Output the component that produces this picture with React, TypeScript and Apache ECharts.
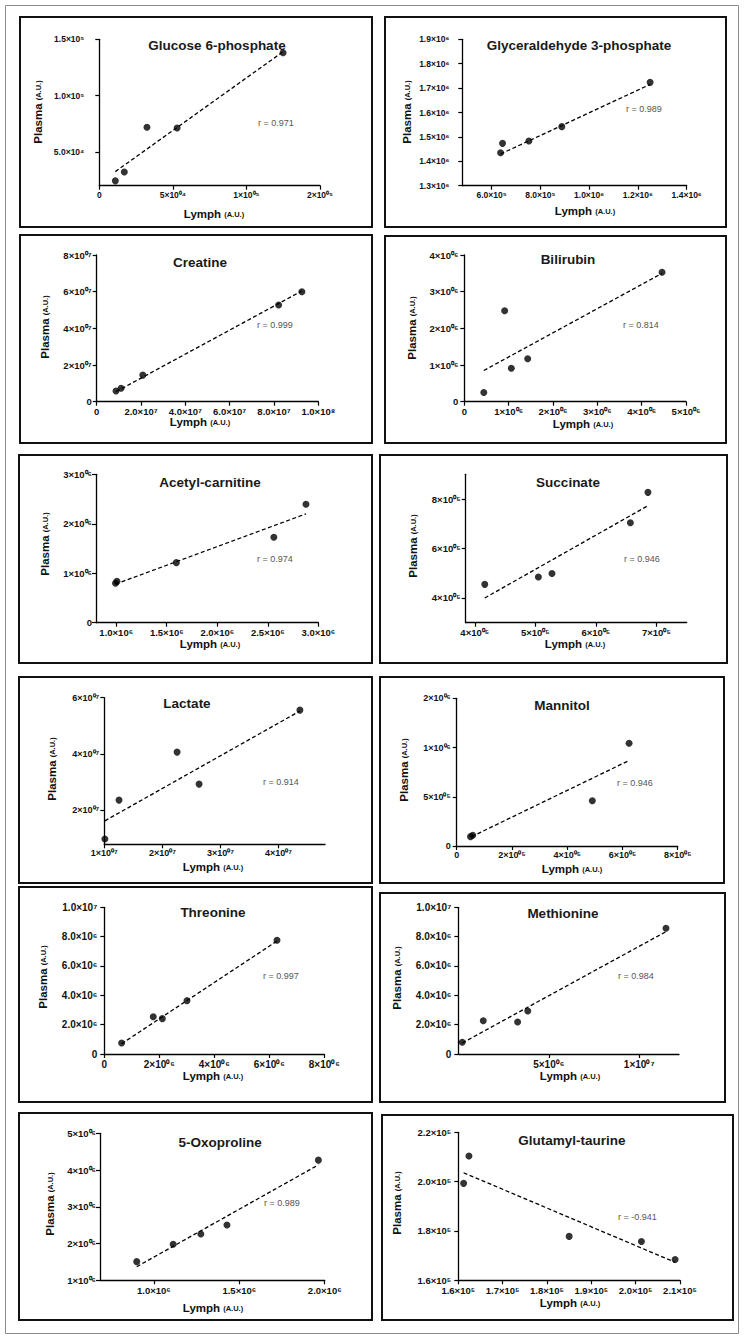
import React, { useEffect, useRef } from "react";
import * as echarts from "echarts";

// ---------- Data ----------
// Glucose 6-phosphate
const g6pLymph = [10900, 17000, 32400, 52900, 124900];
const g6pPlasma = [24300, 32200, 71900, 71300, 138000];
const g6pFitLymph = [10900, 124900];
const g6pFitPlasma = [32500, 139000];
const g6pXTicks = [0, 50000, 100000, 150000];
const g6pXLabels = ["0", "5×10⁰⁴", "1×10⁰⁵", "2×10⁰⁵"];
const g6pYTicks = [50000, 100000, 150000];
const g6pYLabels = ["5.0×10⁴", "1.0×10⁵", "1.5×10⁵"];

// Glyceraldehyde 3-phosphate
const gapLymph = [637000, 645000, 753000, 888000, 1250000];
const gapPlasma = [1435000, 1473500, 1483000, 1542000, 1723500];
const gapFitLymph = [637000, 1250000];
const gapFitPlasma = [1430000, 1715000];
const gapXTicks = [600000, 800000, 1000000, 1200000, 1400000];
const gapXLabels = ["6.0×10⁵", "8.0×10⁵", "1.0×10⁶", "1.2×10⁶", "1.4×10⁶"];
const gapYTicks = [1300000, 1400000, 1500000, 1600000, 1700000, 1800000, 1900000];
const gapYLabels = ["1.3×10⁶", "1.4×10⁶", "1.5×10⁶", "1.6×10⁶", "1.7×10⁶", "1.8×10⁶", "1.9×10⁶"];

// Creatine
const creLymph = [8.7e6, 1.1e7, 2.08e7, 8.21e7, 9.26e7];
const crePlasma = [5.8e6, 7.3e6, 1.45e7, 5.27e7, 6.0e7];
const creFitLymph = [8.7e6, 9.26e7];
const creFitPlasma = [5.45e6, 6.04e7];
const creXTicks = [0, 2e7, 4e7, 6e7, 8e7, 1e8];
const creXLabels = ["0", "2.0×10⁷", "4.0×10⁷", "6.0×10⁷", "8.0×10⁷", "1.0×10⁸"];
const creYTicks = [0, 2e7, 4e7, 6e7, 8e7];
const creYLabels = ["0", "2×10⁰⁷", "4×10⁰⁷", "6×10⁰⁷", "8×10⁰⁷"];

// Bilirubin
const bilLymph = [4.4e5, 9.1e5, 1.06e6, 1.43e6, 4.46e6];
const bilPlasma = [2.5e5, 2.48e6, 9.1e5, 1.17e6, 3.53e6];
const bilFitLymph = [4.4e5, 4.46e6];
const bilFitPlasma = [8.5e5, 3.5e6];
const bilXTicks = [0, 1e6, 2e6, 3e6, 4e6, 5e6];
const bilXLabels = ["0", "1×10⁰⁶", "2×10⁰⁶", "3×10⁰⁶", "4×10⁰⁶", "5×10⁰⁶"];
const bilYTicks = [0, 1e6, 2e6, 3e6, 4e6];
const bilYLabels = ["0", "1×10⁰⁶", "2×10⁰⁶", "3×10⁰⁶", "4×10⁰⁶"];

// Acetyl-carnitine
const acLymph = [9.93e5, 1.007e6, 1.595e6, 2.56e6, 2.878e6];
const acPlasma = [7.96e5, 8.36e5, 1.214e6, 1.726e6, 2.394e6];
const acFitLymph = [9.93e5, 2.878e6];
const acFitPlasma = [7.8e5, 2.2e6];
const acXTicks = [1e6, 1.5e6, 2e6, 2.5e6, 3e6];
const acXLabels = ["1.0×10⁶", "1.5×10⁶", "2.0×10⁶", "2.5×10⁶", "3.0×10⁶"];
const acYTicks = [0, 1e6, 2e6, 3e6];
const acYLabels = ["0", "1×10⁰⁶", "2×10⁰⁶", "3×10⁰⁶"];

// Succinate
const sucLymph = [4.165e5, 5.05e5, 5.275e5, 6.57e5, 6.86e5];
const sucPlasma = [4.55e5, 4.85e5, 4.99e5, 7.04e5, 8.27e5];
const sucFitLymph = [4.165e5, 6.86e5];
const sucFitPlasma = [4.0e5, 7.73e5];
const sucXTicks = [4e5, 5e5, 6e5, 7e5];
const sucXLabels = ["4×10⁰⁵", "5×10⁰⁵", "6×10⁰⁵", "7×10⁰⁵"];
const sucYTicks = [4e5, 6e5, 8e5];
const sucYLabels = ["4×10⁰⁵", "6×10⁰⁵", "8×10⁰⁵"];

// Lactate
const lacLymph = [1.01e7, 1.253e7, 2.253e7, 2.632e7, 4.368e7];
const lacPlasma = [9.9e6, 2.367e7, 4.07e7, 2.935e7, 5.56e7];
const lacFitLymph = [1.01e7, 4.368e7];
const lacFitPlasma = [1.633e7, 5.527e7];
const lacXTicks = [1e7, 2e7, 3e7, 4e7];
const lacXLabels = ["1×10⁰⁷", "2×10⁰⁷", "3×10⁰⁷", "4×10⁰⁷"];
const lacYTicks = [2e7, 4e7, 6e7];
const lacYLabels = ["2×10⁰⁷", "4×10⁰⁷", "6×10⁰⁷"];

// Mannitol
const manLymph = [5.0e4, 5.8e4, 4.91e5, 6.24e5];
const manPlasma = [9.5e4, 1.1e5, 4.6e5, 1.043e6];
const manFitLymph = [5.4e4, 6.2e5];
const manFitPlasma = [9.5e4, 8.63e5];
const manXTicks = [0, 2e5, 4e5, 6e5, 8e5];
const manXLabels = ["0", "2×10⁰⁵", "4×10⁰⁵", "6×10⁰⁵", "8×10⁰⁵"];
const manYTicks = [0, 5e5, 1e6, 1.5e6];
const manYLabels = ["0", "5×10⁰⁵", "1×10⁰⁶", "2×10⁰⁶"];

// Threonine
const thrLymph = [6.3e5, 1.78e6, 2.11e6, 3.006e6, 6.28e6];
const thrPlasma = [7.5e5, 2.545e6, 2.41e6, 3.636e6, 7.75e6];
const thrFitLymph = [6.3e5, 6.28e6];
const thrFitPlasma = [7.0e5, 7.7e6];
const thrXTicks = [0, 2e6, 4e6, 6e6, 8e6];
const thrXLabels = ["0", "2×10⁰⁶", "4×10⁰⁶", "6×10⁰⁶", "8×10⁰⁶"];
const thrYTicks = [0, 2e6, 4e6, 6e6, 8e6, 1e7];
const thrYLabels = ["0", "2.0×10⁶", "4.0×10⁶", "6.0×10⁶", "8.0×10⁶", "1.0×10⁷"];

// Methionine
const metLymph = [2.2e5, 1.38e6, 3.28e6, 3.84e6, 1.148e7];
const metPlasma = [7.95e5, 2.27e6, 2.18e6, 2.93e6, 8.57e6];
const metFitLymph = [2.2e5, 1.148e7];
const metFitPlasma = [7.5e5, 8.34e6];
const metXTicks = [5e6, 1e7];
const metXLabels = ["5×10⁰⁶", "1×10⁰⁷"];
const metYTicks = [0, 2e6, 4e6, 6e6, 8e6, 1e7];
const metYLabels = ["0", "2.0×10⁶", "4.0×10⁶", "6.0×10⁶", "8.0×10⁶", "1.0×10⁷"];

// 5-Oxoproline
const oxoLymph = [9.0e5, 1.113e6, 1.275e6, 1.428e6, 1.963e6];
const oxoPlasma = [1.508e6, 1.98e6, 2.26e6, 2.506e6, 4.27e6];
const oxoFitLymph = [9.0e5, 1.963e6];
const oxoFitPlasma = [1.37e6, 4.14e6];
const oxoXTicks = [1e6, 1.5e6, 2e6];
const oxoXLabels = ["1.0×10⁶", "1.5×10⁶", "2.0×10⁶"];
const oxoYTicks = [1e6, 2e6, 3e6, 4e6, 5e6];
const oxoYLabels = ["1×10⁰⁶", "2×10⁰⁶", "3×10⁰⁶", "4×10⁰⁶", "5×10⁰⁶"];

// Glutamyl-taurine
const gtLymph = [1.612e5, 1.624e5, 1.85e5, 2.013e5, 2.089e5];
const gtPlasma = [1.993e5, 2.104e5, 1.778e5, 1.757e5, 1.684e5];
const gtFitLymph = [1.612e5, 2.089e5];
const gtFitPlasma = [2.036e5, 1.673e5];
const gtXTicks = [1.6e5, 1.7e5, 1.8e5, 1.9e5, 2.0e5, 2.1e5];
const gtXLabels = ["1.6×10⁵", "1.7×10⁵", "1.8×10⁵", "1.9×10⁵", "2.0×10⁵", "2.1×10⁵"];
const gtYTicks = [1.6e5, 1.8e5, 2.0e5, 2.2e5];
const gtYLabels = ["1.6×10⁵", "1.8×10⁵", "2.0×10⁵", "2.2×10⁵"];

type Panel = {
  title: string;
  r: string;
  lymph: number[];
  plasma: number[];
  fitLymph: number[];
  fitPlasma: number[];
  xTicks: number[];
  xLabels: string[];
  yTicks: number[];
  yLabels: string[];
  xRange: number[];
  yRange: number[];
};

const PANELS: Panel[] = [
  { title: "Glucose 6-phosphate", r: "r = 0.971", lymph: g6pLymph, plasma: g6pPlasma, fitLymph: g6pFitLymph, fitPlasma: g6pFitPlasma, xTicks: g6pXTicks, xLabels: g6pXLabels, yTicks: g6pYTicks, yLabels: g6pYLabels, xRange: [0, 150000], yRange: [20000, 150000] },
  { title: "Glyceraldehyde 3-phosphate", r: "r = 0.989", lymph: gapLymph, plasma: gapPlasma, fitLymph: gapFitLymph, fitPlasma: gapFitPlasma, xTicks: gapXTicks, xLabels: gapXLabels, yTicks: gapYTicks, yLabels: gapYLabels, xRange: [480000, 1400000], yRange: [1300000, 1900000] },
  { title: "Creatine", r: "r = 0.999", lymph: creLymph, plasma: crePlasma, fitLymph: creFitLymph, fitPlasma: creFitPlasma, xTicks: creXTicks, xLabels: creXLabels, yTicks: creYTicks, yLabels: creYLabels, xRange: [0, 1e8], yRange: [0, 8e7] },
  { title: "Bilirubin", r: "r = 0.814", lymph: bilLymph, plasma: bilPlasma, fitLymph: bilFitLymph, fitPlasma: bilFitPlasma, xTicks: bilXTicks, xLabels: bilXLabels, yTicks: bilYTicks, yLabels: bilYLabels, xRange: [0, 5e6], yRange: [0, 4e6] },
  { title: "Acetyl-carnitine", r: "r = 0.974", lymph: acLymph, plasma: acPlasma, fitLymph: acFitLymph, fitPlasma: acFitPlasma, xTicks: acXTicks, xLabels: acXLabels, yTicks: acYTicks, yLabels: acYLabels, xRange: [8e5, 3e6], yRange: [0, 3e6] },
  { title: "Succinate", r: "r = 0.946", lymph: sucLymph, plasma: sucPlasma, fitLymph: sucFitLymph, fitPlasma: sucFitPlasma, xTicks: sucXTicks, xLabels: sucXLabels, yTicks: sucYTicks, yLabels: sucYLabels, xRange: [3.85e5, 7.5e5], yRange: [3e5, 9e5] },
  { title: "Lactate", r: "r = 0.914", lymph: lacLymph, plasma: lacPlasma, fitLymph: lacFitLymph, fitPlasma: lacFitPlasma, xTicks: lacXTicks, xLabels: lacXLabels, yTicks: lacYTicks, yLabels: lacYLabels, xRange: [1e7, 4.8e7], yRange: [8e6, 6e7] },
  { title: "Mannitol", r: "r = 0.946", lymph: manLymph, plasma: manPlasma, fitLymph: manFitLymph, fitPlasma: manFitPlasma, xTicks: manXTicks, xLabels: manXLabels, yTicks: manYTicks, yLabels: manYLabels, xRange: [0, 8e5], yRange: [0, 1.5e6] },
  { title: "Threonine", r: "r = 0.997", lymph: thrLymph, plasma: thrPlasma, fitLymph: thrFitLymph, fitPlasma: thrFitPlasma, xTicks: thrXTicks, xLabels: thrXLabels, yTicks: thrYTicks, yLabels: thrYLabels, xRange: [0, 8e6], yRange: [0, 1e7] },
  { title: "Methionine", r: "r = 0.984", lymph: metLymph, plasma: metPlasma, fitLymph: metFitLymph, fitPlasma: metFitPlasma, xTicks: metXTicks, xLabels: metXLabels, yTicks: metYTicks, yLabels: metYLabels, xRange: [0, 1.22e7], yRange: [0, 1e7] },
  { title: "5-Oxoproline", r: "r = 0.989", lymph: oxoLymph, plasma: oxoPlasma, fitLymph: oxoFitLymph, fitPlasma: oxoFitPlasma, xTicks: oxoXTicks, xLabels: oxoXLabels, yTicks: oxoYTicks, yLabels: oxoYLabels, xRange: [6.85e5, 2e6], yRange: [1e6, 5e6] },
  { title: "Glutamyl-taurine", r: "r = -0.941", lymph: gtLymph, plasma: gtPlasma, fitLymph: gtFitLymph, fitPlasma: gtFitPlasma, xTicks: gtXTicks, xLabels: gtXLabels, yTicks: gtYTicks, yLabels: gtYLabels, xRange: [1.6e5, 2.1e5], yRange: [1.6e5, 2.2e5] },
];

// ---------- Layout (pixels) ----------
type Layout = {
  box: number[];
  grid: number[];
  title: number[];
  r: number[];
  xName: number[];
  yName: number[];
  yMargin: number;
  xMargin: number;
  labelSize: number;
};

const LAYOUT: Layout[] = [
  { box: [20, 17, 372, 227], grid: [99.3, 39.3, 320, 185.7], title: [217, 45], r: [258, 123], xName: [214, 214], yName: [38, 112], yMargin: 15, xMargin: 5, labelSize: 8.5 },
  { box: [385, 17, 726, 227], grid: [462.3, 39.3, 686.7, 185.7], title: [579, 45], r: [626, 109], xName: [585, 211], yName: [407, 112], yMargin: 13, xMargin: 5, labelSize: 8.5 },
  { box: [20, 235, 372, 443], grid: [96.7, 255, 318.3, 401.7], title: [200, 262], r: [257, 325], xName: [200, 422], yName: [45, 327], yMargin: 5, xMargin: 5, labelSize: 9.5 },
  { box: [385, 236, 726, 443], grid: [464.3, 255, 686, 401.7], title: [568, 259], r: [623, 325], xName: [583, 424], yName: [412, 328], yMargin: 6, xMargin: 5, labelSize: 9.5 },
  { box: [19, 455, 372, 663], grid: [96, 474.3, 318.3, 622.7], title: [210, 482], r: [257, 559], xName: [210, 644], yName: [45, 544], yMargin: 4, xMargin: 5, labelSize: 9.5 },
  { box: [380, 455, 727, 663], grid: [465.7, 474.3, 686.7, 622.7], title: [568, 482], r: [624, 559], xName: [575, 644], yName: [413, 546], yMargin: 5, xMargin: 5, labelSize: 9.5 },
  { box: [19, 677, 372, 883], grid: [104.3, 697.7, 325, 844.3], title: [187, 703], r: [263, 782], xName: [213, 867], yName: [52, 769], yMargin: 5, xMargin: 4, labelSize: 9 },
  { box: [380, 677, 724, 883], grid: [456.7, 698.3, 677.7, 846], title: [562, 705], r: [617, 783], xName: [572, 869], yName: [404, 770], yMargin: 6, xMargin: 4, labelSize: 9 },
  { box: [19, 887, 372, 1102], grid: [104.3, 907.3, 324.3, 1054], title: [213, 912], r: [263, 976], xName: [213, 1076], yName: [43, 977], yMargin: 7, xMargin: 5, labelSize: 10 },
  { box: [380, 893, 725, 1102], grid: [458.3, 907.3, 679, 1054], title: [563, 913], r: [618, 976], xName: [570, 1076], yName: [397, 978], yMargin: 7, xMargin: 5, labelSize: 10 },
  { box: [19, 1113, 372, 1320], grid: [100, 1133.3, 324.7, 1280.3], title: [220, 1142], r: [264, 1203], xName: [213, 1308], yName: [50, 1204], yMargin: 4, xMargin: 5, labelSize: 9.5 },
  { box: [382, 1115, 733, 1320], grid: [458.3, 1132.3, 680, 1280.3], title: [572, 1140], r: [618, 1217], xName: [570, 1303], yName: [397, 1203], yMargin: 7, xMargin: 5, labelSize: 9.5 },
];

const FONT = "'Liberation Sans', Arial, Helvetica, sans-serif";

function pickLabel(ticks: number[], labels: string[], v: number): string {
  let best = 0;
  for (let i = 1; i < ticks.length; i++) {
    if (Math.abs(ticks[i] - v) < Math.abs(ticks[best] - v)) best = i;
  }
  return labels[best];
}

function buildOption(): any {
  const grid = LAYOUT.map((l) => ({
    left: l.grid[0],
    top: l.grid[1],
    width: l.grid[2] - l.grid[0],
    height: l.grid[3] - l.grid[1],
    containLabel: false,
  }));

  const xAxis = PANELS.map((p, i) => ({
    type: "value",
    gridIndex: i,
    min: p.xRange[0],
    max: p.xRange[1],
    axisLine: { show: true, onZero: false, lineStyle: { color: "#000", width: 1.3 } },
    axisTick: { show: true, length: 4, inside: false, customValues: p.xTicks, lineStyle: { color: "#000", width: 1.2 } },
    axisLabel: {
      fontFamily: FONT,
      fontSize: LAYOUT[i].labelSize,
      fontWeight: "bold",
      color: "#111",
      margin: LAYOUT[i].xMargin,
      customValues: p.xTicks,
      formatter: (v: number) => pickLabel(p.xTicks, p.xLabels, v),
    },
    splitLine: { show: false },
  }));

  const yAxis = PANELS.map((p, i) => ({
    type: "value",
    gridIndex: i,
    min: p.yRange[0],
    max: p.yRange[1],
    axisLine: { show: true, onZero: false, lineStyle: { color: "#000", width: 1.3 } },
    axisTick: { show: true, length: 4, inside: false, customValues: p.yTicks, lineStyle: { color: "#000", width: 1.2 } },
    axisLabel: {
      fontFamily: FONT,
      fontSize: LAYOUT[i].labelSize,
      fontWeight: "bold",
      color: "#111",
      margin: LAYOUT[i].yMargin,
      customValues: p.yTicks,
      formatter: (v: number) => pickLabel(p.yTicks, p.yLabels, v),
    },
    splitLine: { show: false },
  }));

  const series: any[] = [];
  PANELS.forEach((p, i) => {
    series.push({
      type: "line",
      xAxisIndex: i,
      yAxisIndex: i,
      data: p.fitLymph.map((x, j) => [x, p.fitPlasma[j]]),
      symbol: "none",
      silent: true,
      lineStyle: { color: "#000", width: 1.3, type: [4, 2.5] },
      z: 2,
    });
    series.push({
      type: "scatter",
      xAxisIndex: i,
      yAxisIndex: i,
      data: p.lymph.map((x, j) => [x, p.plasma[j]]),
      symbol: "circle",
      symbolSize: 7,
      silent: true,
      itemStyle: { color: "#000" },
      z: 3,
    });
  });

  const graphic: any[] = [
    {
      type: "rect",
      silent: true,
      shape: { x: 5.5, y: 5.5, width: 733, height: 1328 },
      style: { fill: "none", stroke: "#8c8c8c", lineWidth: 1 },
    },
  ];

  const nameRich = {
    a: { fontFamily: FONT, fontSize: 11.5, fontWeight: "bold", fill: "#111" },
    b: { fontFamily: FONT, fontSize: 7.5, fontWeight: "bold", fill: "#111" },
  };

  LAYOUT.forEach((l, i) => {
    const p = PANELS[i];
    graphic.push({
      type: "rect",
      silent: true,
      shape: { x: l.box[0], y: l.box[1], width: l.box[2] - l.box[0], height: l.box[3] - l.box[1] },
      style: { fill: "none", stroke: "#111", lineWidth: 2 },
    });
    graphic.push({
      type: "text",
      silent: true,
      x: l.title[0],
      y: l.title[1],
      style: {
        text: p.title,
        font: `bold 13.5px ${FONT}`,
        fill: "#1a1a1a",
        textAlign: "center",
        textVerticalAlign: "middle",
      },
    });
    graphic.push({
      type: "text",
      silent: true,
      x: l.r[0],
      y: l.r[1],
      style: {
        text: p.r,
        font: `9px ${FONT}`,
        fill: "#555",
        textAlign: "left",
        textVerticalAlign: "middle",
      },
    });
    graphic.push({
      type: "text",
      silent: true,
      x: l.xName[0],
      y: l.xName[1],
      style: {
        text: "{a|Lymph} {b|(A.U.)}",
        fill: "#111",
        font: `bold 11px ${FONT}`,
        textAlign: "center",
        textVerticalAlign: "middle",
        rich: nameRich,
      },
    });
    graphic.push({
      type: "text",
      silent: true,
      x: l.yName[0],
      y: l.yName[1],
      rotation: Math.PI / 2,
      style: {
        text: "{a|Plasma} {b|(A.U.)}",
        fill: "#111",
        font: `bold 11px ${FONT}`,
        textAlign: "center",
        textVerticalAlign: "middle",
        rich: nameRich,
      },
    });
  });

  return {
    animation: false,
    backgroundColor: "#fff",
    grid,
    xAxis,
    yAxis,
    series,
    graphic,
  };
}

export default function App() {
  const ref = useRef<HTMLDivElement>(null);

  useEffect(() => {
    document.body.style.margin = "0";
    if (!ref.current) return;
    const chart = echarts.init(ref.current, undefined, { renderer: "svg" });
    chart.setOption(buildOption());
    return () => {
      chart.dispose();
    };
  }, []);

  return <div ref={ref} style={{ width: 744, height: 1339, background: "#fff" }} />;
}
